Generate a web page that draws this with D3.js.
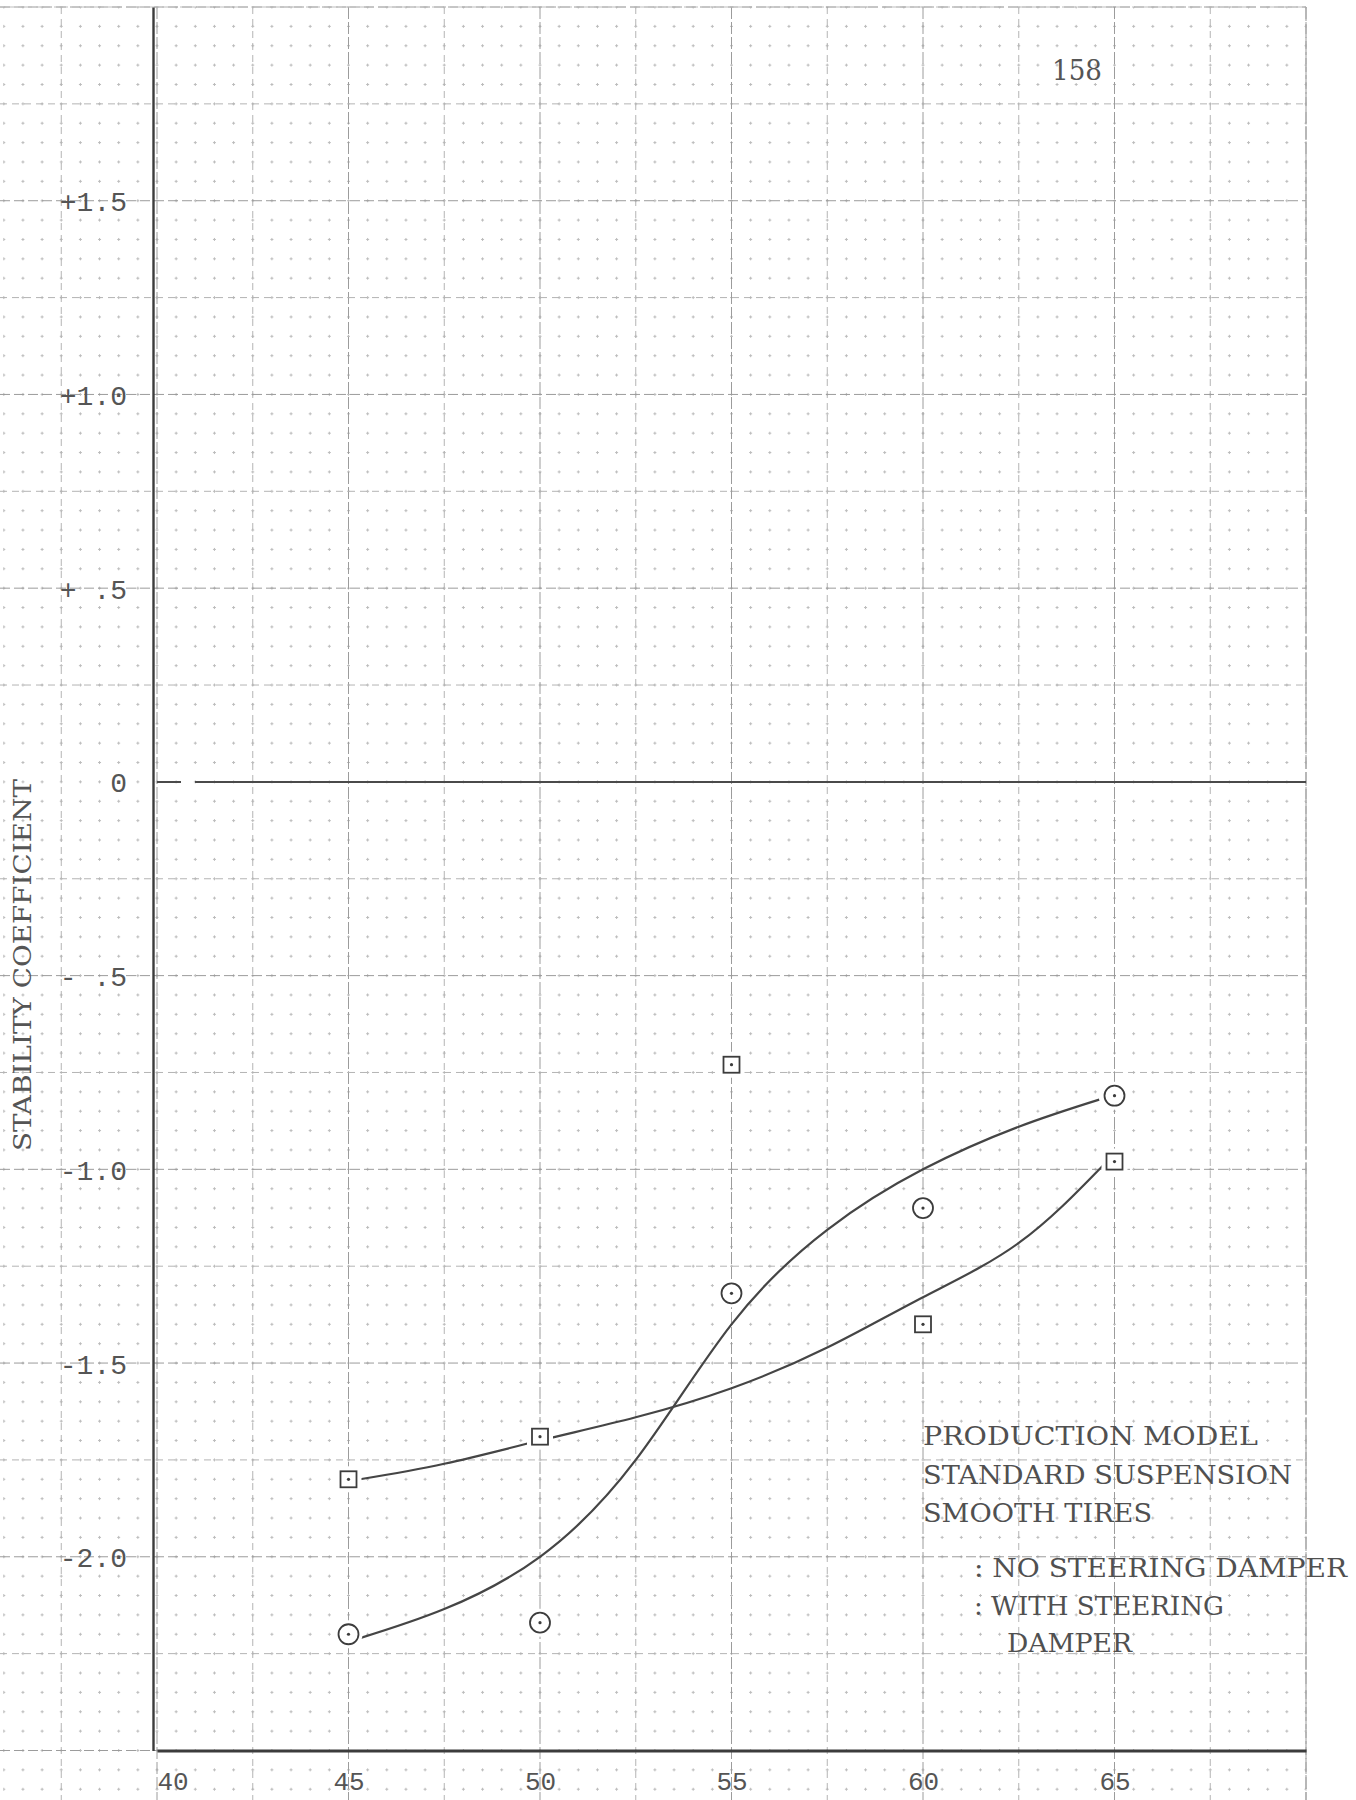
<!DOCTYPE html>
<html>
<head>
<meta charset="utf-8">
<script src="https://cdn.jsdelivr.net/npm/d3@7"></script>
<style>
  html, body { margin: 0; padding: 0; background: #ffffff; }
  svg { display: block; }
</style>
</head>
<body>
<svg id="chart" width="1356" height="1800"></svg>
<script>
// ---------- data ----------
const xTicks = [40, 45, 50, 55, 60, 65];
const xTickLabels = ["40", "45", "50", "55", "60", "65"];
const yTicks = [1.5, 1.0, 0.5, 0, -0.5, -1.0, -1.5, -2.0];
const yTickLabels = ["+1.5", "+1.0", "+ .5", "0", "- .5", "-1.0", "-1.5", "-2.0"];

const speeds = [45, 50, 55, 60, 65];
const squareValues = [-1.80, -1.69, -0.73, -1.40, -0.98];
const circleValues = [-2.20, -2.17, -1.32, -1.10, -0.81];

// hand-faired curves as drawn on the sheet
const squareFitX = [45.3, 47.5, 50, 52.5, 55, 57.5, 60, 62.5, 64.7];
const squareFitY = [-1.80, -1.76, -1.70, -1.64, -1.565, -1.46, -1.33, -1.19, -0.99];
const circleFitX = [45.3, 47.5, 50, 52.5, 55, 57.5, 60, 62.5, 64.6];
const circleFitY = [-2.21, -2.135, -2.0, -1.75, -1.40, -1.156, -1.0, -0.89, -0.82];

const yAxisTitle = "STABILITY COEFFICIENT";
const pageNumber = "158";
const noteLines = ["PRODUCTION MODEL", "STANDARD SUSPENSION", "SMOOTH TIRES"];
const legendLines = [": NO STEERING DAMPER", ": WITH STEERING", "DAMPER"];

// ---------- setup ----------
const svg = d3.select("#chart");
const x = d3.scaleLinear().domain([40, 70]).range([157, 1306]);
const y = d3.scaleLinear().domain([-2.5, 2.0]).range([1750.5, 7]);

const ink = "#3c3c3c";
const g = svg.append("g");

// ---------- graph paper ----------
const paperLeft = 0, paperRight = x(70), paperTop = y(2.0), paperBottom = 1800;
const fineX = d3.range(36, 70.001, 0.5);
const fineY = d3.range(-2.65, 2.0001, 0.05);
const stepY = y(0) - y(0.05), stepX = x(40.5) - x(40);

g.append("g").selectAll("line").data(fineX).join("line")
  .attr("x1", d => x(d)).attr("x2", d => x(d))
  .attr("y1", paperTop).attr("y2", paperBottom)
  .attr("stroke", "#bcbcbc").attr("stroke-width", 1)
  .attr("stroke-dasharray", `3 ${stepY - 3}`).attr("stroke-dashoffset", 1.5);

g.append("g").selectAll("line").data(fineY).join("line")
  .attr("x1", x(36)).attr("x2", paperRight)
  .attr("y1", d => y(d)).attr("y2", d => y(d))
  .attr("stroke", "#bcbcbc").attr("stroke-width", 1)
  .attr("stroke-dasharray", `3 ${stepX - 3}`).attr("stroke-dashoffset", 1.5);

// medium / major lines
const medX = d3.range(37.5, 70.001, 2.5);
g.append("g").selectAll("line").data(medX).join("line")
  .attr("x1", d => x(d)).attr("x2", d => x(d))
  .attr("y1", paperTop).attr("y2", paperBottom)
  .attr("stroke", d => (Math.abs(d % 5) < 1e-6 ? "#9c9c9c" : "#b4b4b4"))
  .attr("stroke-width", 1)
  .attr("stroke-dasharray", d => (Math.abs(d % 5) < 1e-6 ? "12 3" : "7 5"));

const medY = d3.range(-2.5, 2.0001, 0.25).filter(d => Math.abs(d) > 1e-6);
g.append("g").selectAll("line").data(medY).join("line")
  .attr("x1", paperLeft).attr("x2", paperRight)
  .attr("y1", d => y(d)).attr("y2", d => y(d))
  .attr("stroke", d => (Math.abs((d * 2) % 1) < 1e-6 ? "#9c9c9c" : "#b4b4b4"))
  .attr("stroke-width", 1)
  .attr("stroke-dasharray", d => (Math.abs((d * 2) % 1) < 1e-6 ? "10 4" : "7 5"));

// paper border (top and right)
g.append("line").attr("x1", 0).attr("x2", paperRight).attr("y1", paperTop).attr("y2", paperTop)
  .attr("stroke", "#bdbdbd").attr("stroke-width", 1.2).attr("stroke-dasharray", "14 4");
g.append("line").attr("x1", paperRight).attr("x2", paperRight).attr("y1", paperTop).attr("y2", paperBottom)
  .attr("stroke", "#a8a8a8").attr("stroke-width", 1.2).attr("stroke-dasharray", "14 3");

// ---------- axes ----------
// zero line (with small drafting gap near axis)
g.append("line")
  .attr("x1", x(40)).attr("x2", x(70)).attr("y1", y(0)).attr("y2", y(0))
  .attr("stroke", "#4a4a4a").attr("stroke-width", 2)
  .attr("stroke-dasharray", "24 14 2000");

// left axis
const yAxis = d3.axisLeft(y).tickValues(yTicks).tickSize(0)
  .tickFormat((d, i) => yTickLabels[i]);
const ya = svg.append("g").attr("transform", `translate(${x(40) - 4},0)`).call(yAxis);
ya.select(".domain").attr("stroke", ink).attr("stroke-width", 2.4);
ya.selectAll("text")
  .attr("x", -26).attr("dy", "0.36em")
  .style("font-family", "'Liberation Mono', 'DejaVu Sans Mono', monospace")
  .style("font-size", "28px").attr("fill", "#555");

// bottom axis
const xAxis = d3.axisBottom(x).tickValues(xTicks).tickSize(0)
  .tickFormat((d, i) => xTickLabels[i]);
const xa = svg.append("g").attr("transform", `translate(0,${y(-2.5)})`).call(xAxis);
xa.select(".domain").attr("stroke", ink).attr("stroke-width", 3);
xa.selectAll("text")
  .attr("y", 24).attr("dy", "0.6em")
  .style("font-family", "'Liberation Mono', 'DejaVu Sans Mono', monospace")
  .style("font-size", "26px").attr("fill", "#555")
  .attr("text-anchor", d => (d === 40 ? "start" : "middle"));

// y axis title
svg.append("text")
  .attr("transform", `translate(31,965) rotate(-90)`)
  .attr("text-anchor", "middle")
  .style("font-family", "'DejaVu Serif', serif")
  .style("font-size", "24px").attr("fill", "#555")
  .attr("textLength", 372).attr("lengthAdjust", "spacingAndGlyphs")
  .text(yAxisTitle);

// page number
svg.append("text")
  .attr("x", 1052).attr("y", 80)
  .style("font-family", "'DejaVu Serif', serif")
  .style("font-size", "27px").attr("fill", "#555")
  .attr("textLength", 50).attr("lengthAdjust", "spacingAndGlyphs")
  .text(pageNumber);

// ---------- curves ----------
const line = d3.line().x(d => x(d[0])).y(d => y(d[1])).curve(d3.curveNatural);
const squareFit = squareFitX.map((v, i) => [v, squareFitY[i]]);
const circleFit = circleFitX.map((v, i) => [v, circleFitY[i]]);

svg.append("path").datum(squareFit).attr("d", line)
  .attr("fill", "none").attr("stroke", "#454545").attr("stroke-width", 2.2);
svg.append("path").datum(circleFit).attr("d", line)
  .attr("fill", "none").attr("stroke", "#454545").attr("stroke-width", 2.2);

// ---------- markers ----------
const squares = speeds.map((s, i) => ({ s, v: squareValues[i] }));
const circles = speeds.map((s, i) => ({ s, v: circleValues[i] }));
const sq = 16, rc = 10;

const sg = svg.append("g");
sg.selectAll("rect.halo").data(squares).join("rect").attr("class", "halo")
  .attr("x", d => x(d.s) - sq / 2 - 5).attr("y", d => y(d.v) - sq / 2 - 5)
  .attr("width", sq + 10).attr("height", sq + 10).attr("fill", "#fff");
sg.selectAll("rect.mk").data(squares).join("rect").attr("class", "mk")
  .attr("x", d => x(d.s) - sq / 2).attr("y", d => y(d.v) - sq / 2)
  .attr("width", sq).attr("height", sq)
  .attr("fill", "#fff").attr("stroke", ink).attr("stroke-width", 1.8);
sg.selectAll("circle.dot").data(squares).join("circle").attr("class", "dot")
  .attr("cx", d => x(d.s)).attr("cy", d => y(d.v)).attr("r", 1.6).attr("fill", ink);

const cg = svg.append("g");
cg.selectAll("circle.halo").data(circles).join("circle").attr("class", "halo")
  .attr("cx", d => x(d.s)).attr("cy", d => y(d.v)).attr("r", rc + 4).attr("fill", "#fff");
cg.selectAll("circle.mk").data(circles).join("circle").attr("class", "mk")
  .attr("cx", d => x(d.s)).attr("cy", d => y(d.v)).attr("r", rc)
  .attr("fill", "#fff").attr("stroke", ink).attr("stroke-width", 1.8);
cg.selectAll("circle.dot").data(circles).join("circle").attr("class", "dot")
  .attr("cx", d => x(d.s)).attr("cy", d => y(d.v)).attr("r", 1.6).attr("fill", ink);

// ---------- notes / legend ----------
const noteWidths = [335, 369, 229];
svg.append("g").selectAll("text").data(noteLines).join("text")
  .attr("x", 923).attr("y", (d, i) => 1445 + i * 38.5)
  .style("font-family", "'DejaVu Serif', serif")
  .style("font-size", "26px").attr("fill", "#505050")
  .attr("textLength", (d, i) => noteWidths[i]).attr("lengthAdjust", "spacingAndGlyphs")
  .text(d => d);

const legendX = [974, 974, 1007];
const legendW = [373, 250, 125];
const legendY = [1577, 1615, 1652];
svg.append("g").selectAll("text").data(legendLines).join("text")
  .attr("x", (d, i) => legendX[i]).attr("y", (d, i) => legendY[i])
  .style("font-family", "'DejaVu Serif', serif")
  .style("font-size", "26px").attr("fill", "#505050")
  .attr("textLength", (d, i) => legendW[i]).attr("lengthAdjust", "spacingAndGlyphs")
  .text(d => d);
</script>
</body>
</html>
